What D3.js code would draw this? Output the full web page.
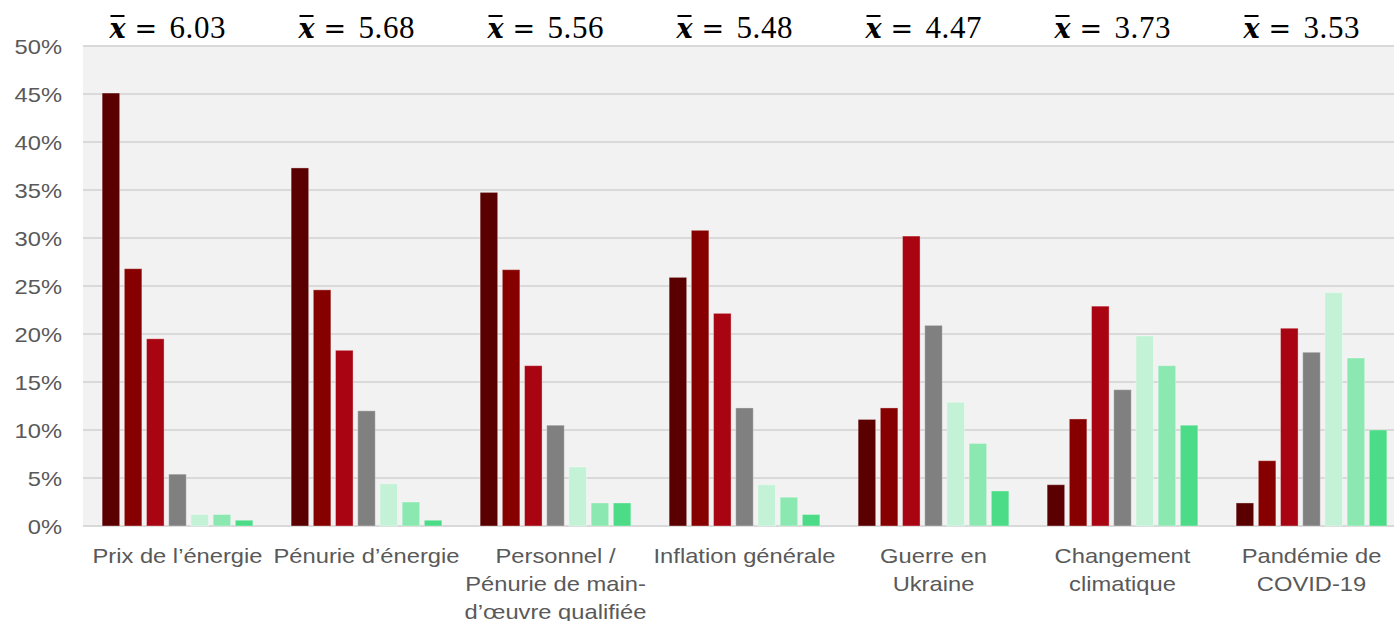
<!DOCTYPE html>
<html>
<head>
<meta charset="utf-8">
<script src="https://cdn.jsdelivr.net/npm/d3@7"></script>
<style>
  html, body { margin: 0; padding: 0; background: #ffffff; }
  svg { display: block; }
</style>
</head>
<body>
<svg id="chart" width="1394" height="621"></svg>
<script>
// ---- data ----
const categories = [
  "Prix de l’énergie",
  "Pénurie d’énergie",
  "Personnel /\nPénurie de main-\nd’œuvre qualifiée",
  "Inflation générale",
  "Guerre en\nUkraine",
  "Changement\nclimatique",
  "Pandémie de\nCOVID-19"
];
const means = ["6.03", "5.68", "5.56", "5.48", "4.47", "3.73", "3.53"];
const seriesNames = ["7", "6", "5", "4", "3", "2", "1"];
const seriesColors = ["#5a0000", "#870000", "#a80411", "#808080", "#c3f2d6", "#8be8b0", "#4cdb87"];
const s7 = [45.1, 37.3, 34.75, 25.9, 11.1, 4.3, 2.4];
const s6 = [26.8, 24.6, 26.7, 30.8, 12.3, 11.15, 6.8];
const s5 = [19.5, 18.3, 16.7, 22.15, 30.2, 22.9, 20.6];
const s4 = [5.4, 12.0, 10.5, 12.3, 20.9, 14.2, 18.1];
const s3 = [1.2, 4.4, 6.15, 4.3, 12.9, 19.8, 24.3];
const s2 = [1.2, 2.5, 2.4, 3.0, 8.6, 16.7, 17.5];
const s1 = [0.6, 0.6, 2.4, 1.2, 3.65, 10.5, 10.0];
const seriesValues = [s7, s6, s5, s4, s3, s2, s1];
const yTicks = [0, 5, 10, 15, 20, 25, 30, 35, 40, 45, 50];

// ---- layout ----
const svg = d3.select("#chart");
const W = 1394, H = 621;
const plotLeft = 83, plotRight = 1406, plotTop = 46, plotBottom = 526;

const x = d3.scaleBand().domain(categories).range([plotLeft, plotRight]).paddingInner(0).paddingOuter(0);
const xs = d3.scaleBand().domain(seriesNames).range([0, x.bandwidth()]).paddingInner(0.21).paddingOuter(0.862);
const y = d3.scaleLinear().domain([0, 50]).range([plotBottom, plotTop]);

// plot background
svg.append("rect")
  .attr("x", plotLeft).attr("y", y(50))
  .attr("width", W - plotLeft).attr("height", y(0) - y(50))
  .attr("fill", "#f2f2f2");

// gridlines
svg.append("g").selectAll("line").data(yTicks).join("line")
  .attr("x1", plotLeft).attr("x2", W)
  .attr("y1", d => y(d)).attr("y2", d => y(d))
  .attr("stroke", "#d9d9d9").attr("stroke-width", 2);

// y axis labels
const yAxis = d3.axisLeft(y).tickValues(yTicks).tickFormat(d => d + "%").tickSize(0).tickPadding(0);
const yg = svg.append("g").call(yAxis);
yg.select(".domain").remove();
yg.selectAll(".tick text")
  .attr("fill", "#595959")
  .style("font-family", "'Liberation Sans', Arial, sans-serif")
  .style("font-size", "21px")
  .attr("x", 0)
  .attr("text-anchor", "end")
  .attr("dy", "0.36em");
yg.attr("transform", "translate(62,0) scale(1.13,1)");

// bars
const groups = svg.append("g").selectAll("g").data(categories).join("g")
  .attr("transform", d => `translate(${x(d)},0)`);
groups.selectAll("rect")
  .data((c, ci) => seriesNames.map((s, si) => ({ s, si, v: seriesValues[si][ci] })))
  .join("rect")
  .attr("x", d => xs(d.s))
  .attr("width", xs.bandwidth())
  .attr("y", d => y(d.v))
  .attr("height", d => y(0) - y(d.v))
  .attr("fill", d => seriesColors[d.si])
  .attr("stroke", "#ffffff")
  .attr("stroke-opacity", 0.35)
  .attr("stroke-width", 1);

// category labels
const xAxisG = svg.append("g");
categories.forEach((c, i) => {
  const cx = x(c) + x.bandwidth() / 2;
  const lines = c.split("\n");
  const t = xAxisG.append("text")
    .attr("transform", `translate(${cx},0) scale(1.13,1)`)
    .attr("text-anchor", "middle")
    .attr("fill", "#595959")
    .style("font-family", "'Liberation Sans', Arial, sans-serif")
    .style("font-size", "21px");
  lines.forEach((ln, li) => {
    t.append("tspan").attr("x", 0).attr("y", 563 + li * 28).text(ln);
  });
});

// mean labels
const meanG = svg.append("g");
categories.forEach((c, i) => {
  const cx = x(c) + x.bandwidth() / 2 - 10;
  const g = meanG.append("g").attr("transform", `translate(${cx},38)`);
  g.append("text")
    .attr("x", -58).attr("y", 0)
    .style("font-family", "'DejaVu Serif', 'Liberation Serif', serif")
    .style("font-size", "27px")
    .style("font-weight", "bold")
    .style("font-style", "italic")
    .attr("fill", "#000")
    .text("x");
  g.append("line")
    .attr("x1", -57).attr("x2", -43)
    .attr("y1", -22).attr("y2", -22)
    .attr("stroke", "#000").attr("stroke-width", 2);
  g.append("text")
    .attr("x", -33).attr("y", 0)
    .style("font-family", "'DejaVu Serif', serif")
    .style("font-size", "27px")
    .attr("fill", "#000")
    .text("=");
  g.append("text")
    .attr("x", 2).attr("y", 0)
    .style("font-family", "'Liberation Serif', serif")
    .style("font-size", "31px")
    .attr("fill", "#000")
    .attr("textLength", 56)
    .text(means[i]);
});
</script>
</body>
</html>
